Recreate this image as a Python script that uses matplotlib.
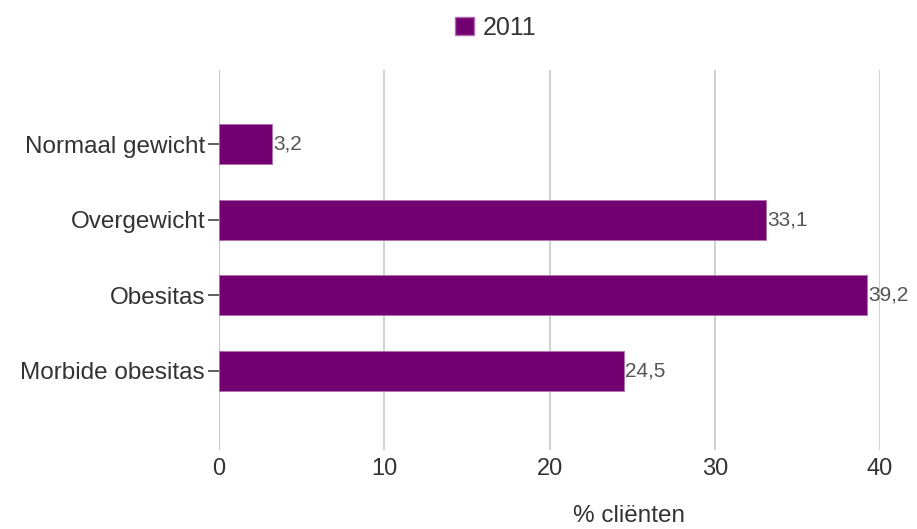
import matplotlib.pyplot as plt
from matplotlib.patches import Patch

plt.rcParams['font.family'] = ['Liberation Sans', 'DejaVu Sans']

categories = ['Normaal gewicht', 'Overgewicht', 'Obesitas', 'Morbide obesitas']
values_2011 = [3.2, 33.1, 39.2, 24.5]
value_labels = ['3,2', '33,1', '39,2', '24,5']
x_ticks = [0, 10, 20, 30, 40]

purple = '#720071'
text_col = '#333333'

fig = plt.figure(figsize=(9.17, 5.29), dpi=100)
ax = fig.add_axes([0.2388, 0.1493, 0.7209, 0.7184])

pos = range(len(categories))
bars = ax.barh(pos, values_2011, height=0.53, color=purple,
               edgecolor='#b070b0', linewidth=0.6, zorder=3)

for b, lab in zip(bars, value_labels):
    ax.text(b.get_width() + 0.08, b.get_y() + b.get_height() / 2, lab,
            va='center', ha='left', fontsize=15, color='#555555', zorder=4)

ax.set_xlim(0, 40)
ax.set_ylim(4.05, -0.98)
ax.set_xticks(x_ticks)
ax.set_xticklabels([str(t) for t in x_ticks], fontsize=17, color=text_col)
ax.set_yticks(list(pos))
ax.set_yticklabels(categories, fontsize=17.5, color=text_col)
ax.tick_params(axis='x', length=0, pad=6)
ax.tick_params(axis='y', length=8, width=1.2, color='#444444', pad=2)

ax.grid(axis='x', color='#c8c8c8', linewidth=1.2, zorder=0)
ax.set_axisbelow(True)
for s in ax.spines.values():
    s.set_visible(False)
ax.axvline(0, color='#c8c8c8', linewidth=1.2, zorder=1)

ax.set_xlabel('% cliënten', fontsize=17.5, color=text_col)
ax.xaxis.set_label_coords(0.62, -0.145)

handles = [Patch(facecolor=purple, edgecolor='#b070b0', label='2011')]
fig.legend(handles=handles, loc='center', bbox_to_anchor=(0.541, 0.948),
           frameon=False, fontsize=18, handlelength=0.75, handleheight=0.75,
           handletextpad=0.35, labelcolor=text_col)

fig.savefig('out.png', dpi=100)
